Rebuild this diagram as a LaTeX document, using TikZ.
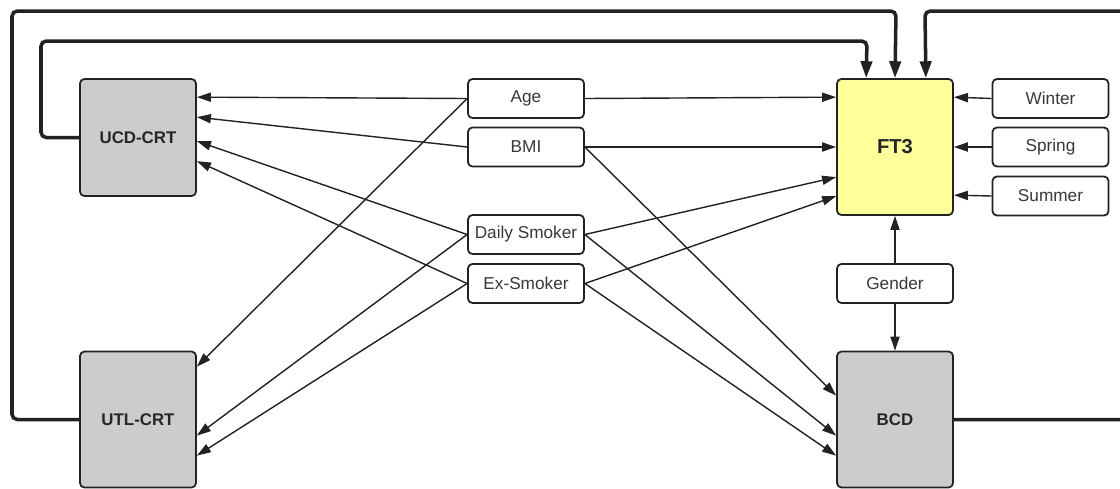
\documentclass[tikz,border=0pt]{standalone}
\usepackage{fontspec}
\setmainfont{Liberation Sans}
\usetikzlibrary{arrows.meta,calc}
\definecolor{boxgray}{HTML}{CCCCCC}
\definecolor{ftyellow}{HTML}{FFFF99}
\definecolor{ink}{HTML}{222222}

\begin{document}
\begin{tikzpicture}[x=0.02cm, y=-0.02cm,
  var/.style={draw=ink, rounded corners=2.5pt, line width=1pt, fill=white,
    minimum width=2.32cm, minimum height=0.78cm, inner sep=0pt,
    text=black!78, font=\fontsize{9.8}{11}\selectfont},
  block/.style={draw=ink, rounded corners=2.5pt, line width=1pt, fill=boxgray,
    minimum width=2.32cm, minimum height=2.72cm, inner sep=0pt,
    text=black!85, font=\bfseries\fontsize{9.6}{11}\selectfont},
  link/.style={draw=ink, line width=0.8pt, -{Triangle[length=8pt,width=5.2pt]}},
  loop/.style={draw=ink, line width=2pt, rounded corners=3pt,
    -{Triangle[length=9.6pt,width=6.4pt]}}]

  \useasboundingbox (0,0) rectangle (1120,488);

  % --- outcome blocks ---
  \node[block, minimum height=2.34cm] (ucd) at (138,137.5) {UCD-CRT};
  \node[block] (utl) at (138,419.5) {UTL-CRT};
  \node[block, fill=ftyellow, font=\bfseries\fontsize{11.5}{13}\selectfont] (ft3) at (895,147) {FT3};
  \node[block] (bcd) at (895,419.5) {BCD};

  % --- covariates ---
  \node[var] (age) at (526,98.5) {Age};
  \node[var] (bmi) at (526,147) {BMI};
  \node[var] (daily) at (526,234.5) {Daily Smoker};
  \node[var] (exsmoker) at (526,283.5) {Ex-Smoker};
  \node[var] (winter) at (1050.5,98.5) {Winter};
  \node[var] (spring) at (1050.5,147) {Spring};
  \node[var] (summer) at (1050.5,196) {Summer};
  \node[var] (gender) at (895,283.5) {Gender};

  % --- to the left blocks ---
  \draw[link] (age.west) -- ($(ucd.north east)+(0,19)$);
  \draw[link] (age.west) -- ($(utl.north east)+(0,16)$);
  \draw[link] (bmi.west) -- ($(ucd.north east)+(0,39)$);
  \draw[link] (daily.west) -- ($(ucd.north east)+(0,63)$);
  \draw[link] (daily.west) -- ($(utl.north east)+(0,85)$);
  \draw[link] (exsmoker.west) -- ($(ucd.north east)+(0,83)$);
  \draw[link] (exsmoker.west) -- ($(utl.north east)+(0,105)$);

  % --- to the right blocks ---
  \draw[link] (age.east) -- ($(ft3.north west)+(0,19)$);
  \draw[link] (bmi.east) -- (ft3.west);
  \draw[link] (bmi.east) -- ($(bcd.north west)+(0,45)$);
  \draw[link] (daily.east) -- ($(ft3.north west)+(0,99)$);
  \draw[link] (daily.east) -- ($(bcd.north west)+(0,85)$);
  \draw[link] (exsmoker.east) -- ($(ft3.north west)+(0,118)$);
  \draw[link] (exsmoker.east) -- ($(bcd.north west)+(0,105)$);

  % --- seasons and gender ---
  \draw[link] (winter.west) -- ($(ft3.north east)+(0,19)$);
  \draw[link] (spring.west) -- (ft3.east);
  \draw[link] (summer.west) -- ($(ft3.north east)+(0,117)$);
  \draw[link] (gender.north) -- (ft3.south);
  \draw[link] (gender.south) -- (bcd.north);

  % --- feedback into FT3 ---
  \draw[loop] (ucd.west) -- (41,137.5) -- (41,41) -- (867,41) -- ($(ft3.north west)+(30,0)$);
  \draw[loop] (utl.west) -- (12,419.5) -- (12,11) -- (896,11) -- (ft3.north);
  \draw[loop] (bcd.east) -- (1135,419.5) -- (1135,11) -- (925,11) -- ($(ft3.north east)+(-28,0)$);

\end{tikzpicture}
\end{document}
